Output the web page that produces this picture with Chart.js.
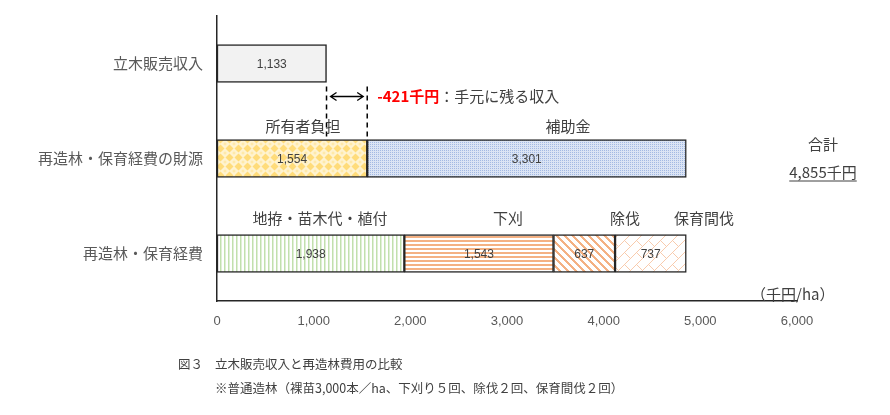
<!DOCTYPE html>
<html lang="ja">
<head>
<meta charset="utf-8">
<script src="https://cdn.jsdelivr.net/npm/chart.js@4.4.1/dist/chart.umd.min.js"></script>
<style>
  html, body { margin: 0; padding: 0; background: #fff; }
  #wrap { width: 890px; height: 415px; }
</style>
</head>
<body>
<div id="wrap"><canvas id="chart" width="890" height="415"></canvas></div>
<script>
// --- DATA ---
const categories = ['立木販売収入', '再造林・保育経費の財源', '再造林・保育経費'];
const salesRevenue = [1133, null, null];
const ownerBurden = [null, 1554, null];
const subsidy = [null, 3301, null];
const sitePrep = [null, null, 1938];
const weeding = [null, null, 1543];
const cleaning = [null, null, 637];
const thinning = [null, null, 737];
const xMin = 0, xMax = 6000, xStep = 1000;
const totalCost = 4855;
const netIncome = salesRevenue[0] - ownerBurden[1]; // -421

const JP = '"Noto Sans CJK JP", "Noto Sans", sans-serif';
const NUM = '"Liberation Sans", Arial, sans-serif';

// --- PATTERNS ---
function makePattern(size, fn) {
    const c = document.createElement('canvas');
    c.width = c.height = size;
    const g = c.getContext('2d');
    g.fillStyle = '#fff';
    g.fillRect(0, 0, size, size);
    fn(g, size);
    return g.createPattern(c, 'repeat');
}
function pixels(g, size, color, test) {
    g.fillStyle = color;
    for (let i = 0; i < size; i++)
        for (let j = 0; j < size; j++)
            if (test(i, j)) g.fillRect(i, j, 1, 1);
}
function diamond(g, cx, cy, r) {
    g.beginPath();
    g.moveTo(cx, cy - r); g.lineTo(cx + r, cy); g.lineTo(cx, cy + r); g.lineTo(cx - r, cy);
    g.closePath(); g.fill();
}

const yellowDiamonds = makePattern(9, (g) => {
    g.fillStyle = '#fff3cf';
    g.fillRect(0, 0, 9, 9);
    g.fillStyle = '#ffdc7a';
    diamond(g, 4.5, 4.5, 4);
    g.fillStyle = '#ffe9a8';
    [[0, 0], [9, 0], [0, 9], [9, 9]].forEach(([x, y]) => diamond(g, x, y, 1.8));
});
const blueDots = makePattern(4, (g, s) => {
    g.fillStyle = '#dbe4f4';
    g.fillRect(0, 0, s, s);
    pixels(g, s, '#a3b9e3', (i, j) => i % 2 === 0 && j % 2 === 0);
});
const greenVertical = makePattern(4, (g, s) => {
    g.fillStyle = '#c2e0ad';
    g.fillRect(0, 0, 1.5, s);
});
const orangeHorizontal = makePattern(4, (g, s) => {
    g.fillStyle = '#f4b183';
    g.fillRect(0, 0, s, 2);
});
const orangeDiagonal = makePattern(8, (g, s) => {
    pixels(g, s, '#f4b183', (i, j) => ((i - j) % s + s) % s < 3);
});
const orangeBrick = makePattern(12, (g, s) => {
    pixels(g, s, '#f8cbad', (i, j) => (i + j) % s === 0 || (((i - j) % s + s) % s === 0 && (i + j) % 24 < 12));
});

function seg(label, data, fill) {
    return {
        label: label,
        data: data,
        backgroundColor: fill,
        borderColor: '#262626',
        borderWidth: 1.5,
        borderSkipped: false,
        barThickness: 38
    };
}

// --- PLUGINS ---
const valueLabels = {
    id: 'valueLabels',
    afterDatasetsDraw(chart) {
        const ctx = chart.ctx;
        ctx.save();
        ctx.font = '12px ' + NUM;
        ctx.fillStyle = '#404040';
        ctx.textAlign = 'center';
        ctx.textBaseline = 'middle';
        chart.data.datasets.forEach((ds, di) => {
            chart.getDatasetMeta(di).data.forEach((el, i) => {
                const v = ds.data[i];
                if (v == null) return;
                ctx.fillText(v.toLocaleString('en-US'), (el.x + el.base) / 2, el.y + 1);
            });
        });
        ctx.restore();
    }
};

const annotations = {
    id: 'annotations',
    afterDraw(chart) {
        const ctx = chart.ctx;
        const x = chart.scales.x, y = chart.scales.y;
        const px = (v) => x.getPixelForValue(v);
        const row0 = y.getPixelForValue(0), row1 = y.getPixelForValue(1), row2 = y.getPixelForValue(2);
        ctx.save();

        // dashed guides between revenue and owner burden
        const xa = px(salesRevenue[0]), xb = px(ownerBurden[1]);
        ctx.strokeStyle = '#000';
        ctx.lineWidth = 1.5;
        ctx.setLineDash([5, 4]);
        [xa, xb].forEach(xx => {
            ctx.beginPath();
            ctx.moveTo(xx, row0 + 23);
            ctx.lineTo(xx, row1 - 19);
            ctx.stroke();
        });
        ctx.setLineDash([]);

        // double arrow
        const ay = row0 + 33;
        const a1 = xa + 4, a2 = xb - 4;
        ctx.lineWidth = 1.3;
        ctx.beginPath();
        ctx.moveTo(a1, ay); ctx.lineTo(a2, ay);
        ctx.moveTo(a1 + 6, ay - 4); ctx.lineTo(a1, ay); ctx.lineTo(a1 + 6, ay + 4);
        ctx.moveTo(a2 - 6, ay - 4); ctx.lineTo(a2, ay); ctx.lineTo(a2 - 6, ay + 4);
        ctx.stroke();

        // -421千円：手元に残る収入
        ctx.textBaseline = 'middle';
        ctx.textAlign = 'left';
        ctx.font = 'bold 15px ' + JP;
        ctx.fillStyle = '#ff0000';
        const redText = netIncome + '千円';
        ctx.fillText(redText, xb + 10, ay);
        const rw = ctx.measureText(redText).width;
        ctx.font = '15px ' + JP;
        ctx.fillStyle = '#404040';
        ctx.fillText('：手元に残る収入', xb + 10 + rw, ay);

        // segment titles
        ctx.textAlign = 'center';
        ctx.fillStyle = '#404040';
        ctx.font = '15px ' + JP;
        ctx.fillText('所有者負担', x.left + 86, row1 - 32);
        ctx.fillText('補助金', x.left + 351, row1 - 32);
        ctx.fillText('地拵・苗木代・植付', x.left + 103, row2 - 35);
        ctx.fillText('下刈', x.left + 291, row2 - 35);
        ctx.fillText('除伐', x.left + 408, row2 - 35);
        ctx.fillText('保育間伐', x.left + 487, row2 - 35);

        // total
        const tx = x.right + 26;
        ctx.fillText('合計', tx, row1 - 14);
        const totalText = totalCost.toLocaleString('en-US') + '千円';
        ctx.fillText(totalText, tx, row1 + 14);
        const tw = ctx.measureText(totalText).width;
        ctx.lineWidth = 1;
        ctx.strokeStyle = '#404040';
        ctx.beginPath();
        ctx.moveTo(tx - tw / 2, row1 + 22.5);
        ctx.lineTo(tx + tw / 2, row1 + 22.5);
        ctx.stroke();

        // unit
        ctx.textAlign = 'left';
        ctx.fillText('（千円/ha）', x.right - 46, x.top - 7);

        // caption
        ctx.font = '12.5px ' + JP;
        ctx.fillText('図３', 178, 364);
        ctx.fillText('立木販売収入と再造林費用の比較', 215, 364);
        ctx.fillText('※普通造林（裸苗3,000本／ha、下刈り５回、除伐２回、保育間伐２回）', 215, 388);
        ctx.restore();
    }
};

// --- CHART ---
new Chart(document.getElementById('chart'), {
    type: 'bar',
    data: {
        labels: categories,
        datasets: [
            seg('立木販売収入', salesRevenue, '#f2f2f2'),
            seg('所有者負担', ownerBurden, yellowDiamonds),
            seg('補助金', subsidy, blueDots),
            seg('地拵・苗木代・植付', sitePrep, greenVertical),
            seg('下刈', weeding, orangeHorizontal),
            seg('除伐', cleaning, orangeDiagonal),
            seg('保育間伐', thinning, orangeBrick)
        ]
    },
    options: {
        indexAxis: 'y',
        responsive: false,
        animation: false,
        layout: { padding: { left: 0, right: 93, top: 16, bottom: 0 } },
        plugins: { legend: { display: false }, tooltip: { enabled: false } },
        scales: {
            x: {
                stacked: true,
                min: xMin,
                max: xMax,
                ticks: {
                    stepSize: xStep,
                    padding: 13,
                    color: '#595959',
                    font: { family: NUM, size: 13 },
                    maxRotation: 0,
                    callback: (v) => Number(v).toLocaleString('en-US')
                },
                grid: { display: false, drawTicks: false },
                border: { display: true, color: '#262626', width: 1.5 },
                afterFit: (s) => { s.height = 114; s.paddingLeft = 0; s.paddingRight = 0; }
            },
            y: {
                stacked: true,
                ticks: {
                    padding: 14,
                    color: '#595959',
                    font: { family: JP, size: 15 }
                },
                grid: { display: false, drawTicks: false },
                border: { display: true, color: '#262626', width: 1.5 },
                afterFit: (s) => { s.width = 217; s.paddingTop = 0; s.paddingBottom = 0; }
            }
        }
    },
    plugins: [valueLabels, annotations]
});
</script>
</body>
</html>
